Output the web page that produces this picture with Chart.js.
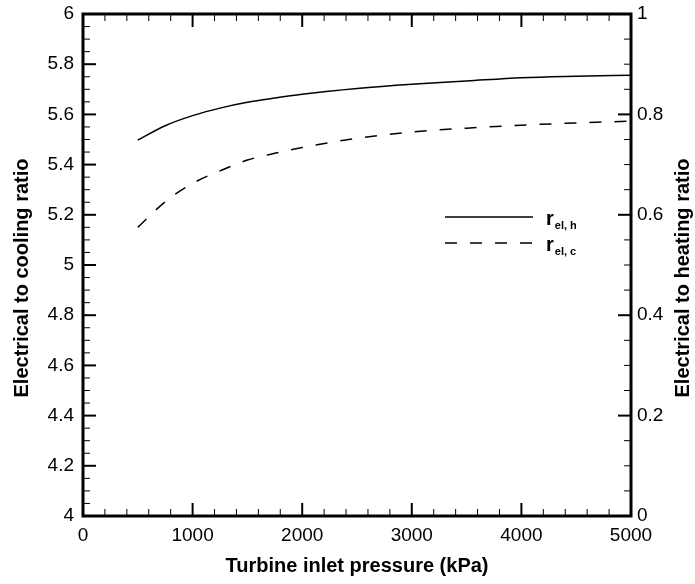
<!DOCTYPE html>
<html>
<head>
<meta charset="utf-8">
<script src="https://cdn.jsdelivr.net/npm/chart.js@4"></script>
<style>
  body { margin: 0; background: #fff; }
  #chart { display: block; }
</style>
</head>
<body>
<canvas id="chart" width="695" height="584"></canvas>
<script>
// turbine inlet pressure (kPa)
const pressure = [500, 750, 1000, 1250, 1500, 1750, 2000, 2500, 3000, 3500, 4000, 4500, 5000];
// electrical to heating ratio (right axis)
const ratioHeating = [0.749, 0.7775, 0.7975, 0.8125, 0.824, 0.8325, 0.840, 0.8515, 0.860, 0.8665, 0.873, 0.876, 0.878];
// electrical to cooling ratio (left axis)
const ratioCooling = [5.150, 5.252, 5.325, 5.375, 5.418, 5.445, 5.468, 5.505, 5.530, 5.545, 5.557, 5.566, 5.573];

const xTicks = [0, 1000, 2000, 3000, 4000, 5000];
const leftTicks = [4, 4.2, 4.4, 4.6, 4.8, 5, 5.2, 5.4, 5.6, 5.8, 6];
const rightTicks = [0, 0.2, 0.4, 0.6, 0.8, 1];

const FONT = '"Liberation Sans", Arial, sans-serif';

function pts(ys) {
  return pressure.map((p, i) => ({ x: p, y: ys[i] }));
}
function fixTicks(list) {
  return function (scale) {
    scale.ticks = list.map((v) => ({ value: v }));
  };
}
function fmt(v) {
  return String(Number(v.toFixed(3)));
}
function noPad(s) {
  s.paddingTop = 0;
  s.paddingBottom = 0;
  s.paddingLeft = 0;
  s.paddingRight = 0;
}

// ticks pointing inward, frame, titles, legend
const decor = {
  id: "decor",
  afterDraw(chart) {
    const ctx = chart.ctx;
    const a = chart.chartArea;
    const sx = chart.scales.x;
    const sl = chart.scales.yL;
    const sr = chart.scales.yR;
    ctx.save();
    ctx.strokeStyle = "#000";
    ctx.lineCap = "butt";

    function line(x1, y1, x2, y2, w) {
      ctx.lineWidth = w;
      ctx.beginPath();
      ctx.moveTo(x1, y1);
      ctx.lineTo(x2, y2);
      ctx.stroke();
    }

    // x axis (bottom + top)
    for (let v = 0; v <= 5000; v += 200) {
      const px = sx.getPixelForValue(v);
      const major = v % 1000 === 0;
      const len = major ? 13 : 7;
      const w = major ? 2 : 1;
      line(px, a.bottom, px, a.bottom - len, w);
      line(px, a.top, px, a.top + len, w);
    }
    // left axis
    for (let i = 0; i <= 40; i++) {
      const v = 4 + i * 0.05;
      const py = sl.getPixelForValue(v);
      const major = i % 4 === 0;
      line(a.left, py, a.left + (major ? 13 : 7), py, major ? 2 : 1);
    }
    // right axis
    for (let i = 0; i <= 20; i++) {
      const v = i * 0.05;
      const py = sr.getPixelForValue(v);
      const major = i % 4 === 0;
      line(a.right, py, a.right - (major ? 13 : 7), py, major ? 2 : 1);
    }

    // frame
    ctx.lineWidth = 3;
    ctx.strokeRect(a.left, a.top, a.right - a.left, a.bottom - a.top);

    // axis titles
    ctx.fillStyle = "#000";
    ctx.font = "bold 20px " + FONT;
    ctx.textAlign = "center";
    ctx.textBaseline = "middle";
    ctx.fillText("Turbine inlet pressure (kPa)", (a.left + a.right) / 2, 566);

    ctx.save();
    ctx.translate(22, 278);
    ctx.rotate(-Math.PI / 2);
    ctx.fillText("Electrical to cooling ratio", 0, 0);
    ctx.restore();

    ctx.save();
    ctx.translate(683, 278);
    ctx.rotate(-Math.PI / 2);
    ctx.fillText("Electrical to heating ratio", 0, 0);
    ctx.restore();

    // legend
    const items = [
      { sub: "el, h", dash: [], y: 217 },
      { sub: "el, c", dash: [12, 13], y: 243 },
    ];
    items.forEach((it) => {
      ctx.setLineDash(it.dash);
      line(445, it.y, 533, it.y, 1.5);
      ctx.setLineDash([]);
      ctx.textAlign = "left";
      ctx.textBaseline = "alphabetic";
      ctx.font = "bold 20px " + FONT;
      ctx.fillText("r", 546, it.y + 8);
      const rw = ctx.measureText("r").width;
      ctx.font = "bold 11px " + FONT;
      ctx.fillText(it.sub, 546 + rw + 1, it.y + 12);
    });

    ctx.restore();
  },
};

new Chart(document.getElementById("chart"), {
  type: "line",
  data: {
    datasets: [
      {
        label: "r el, h",
        data: pts(ratioHeating),
        yAxisID: "yR",
        borderColor: "#000",
        borderWidth: 1.5,
        pointRadius: 0,
        cubicInterpolationMode: "monotone",
        fill: false,
      },
      {
        label: "r el, c",
        data: pts(ratioCooling),
        yAxisID: "yL",
        borderColor: "#000",
        borderWidth: 1.5,
        borderDash: [12, 13],
        pointRadius: 0,
        cubicInterpolationMode: "monotone",
        fill: false,
      },
    ],
  },
  options: {
    responsive: false,
    animation: false,
    layout: { padding: { top: 14, left: 0, right: 0, bottom: 0 } },
    plugins: {
      legend: { display: false },
      tooltip: { enabled: false },
    },
    scales: {
      x: {
        type: "linear",
        min: 0,
        max: 5000,
        afterBuildTicks: fixTicks(xTicks),
        afterFit: (s) => { s.height = 68; noPad(s); },
        border: { display: false },
        grid: { display: false, drawTicks: false },
        ticks: {
          padding: 8,
          color: "#000",
          font: { family: FONT, size: 19 },
          maxRotation: 0,
          callback: (v) => fmt(v),
        },
      },
      yL: {
        type: "linear",
        position: "left",
        min: 4,
        max: 6,
        afterBuildTicks: fixTicks(leftTicks),
        afterFit: (s) => { s.width = 83; noPad(s); },
        border: { display: false },
        grid: { display: false, drawTicks: false },
        ticks: {
          padding: 9,
          color: "#000",
          font: { family: FONT, size: 19 },
          callback: (v) => fmt(v),
        },
      },
      yR: {
        type: "linear",
        position: "right",
        min: 0,
        max: 1,
        afterBuildTicks: fixTicks(rightTicks),
        afterFit: (s) => { s.width = 64; noPad(s); },
        border: { display: false },
        grid: { display: false, drawTicks: false },
        ticks: {
          padding: 6,
          color: "#000",
          font: { family: FONT, size: 19 },
          callback: (v) => fmt(v),
        },
      },
    },
  },
  plugins: [decor],
});
</script>
</body>
</html>
